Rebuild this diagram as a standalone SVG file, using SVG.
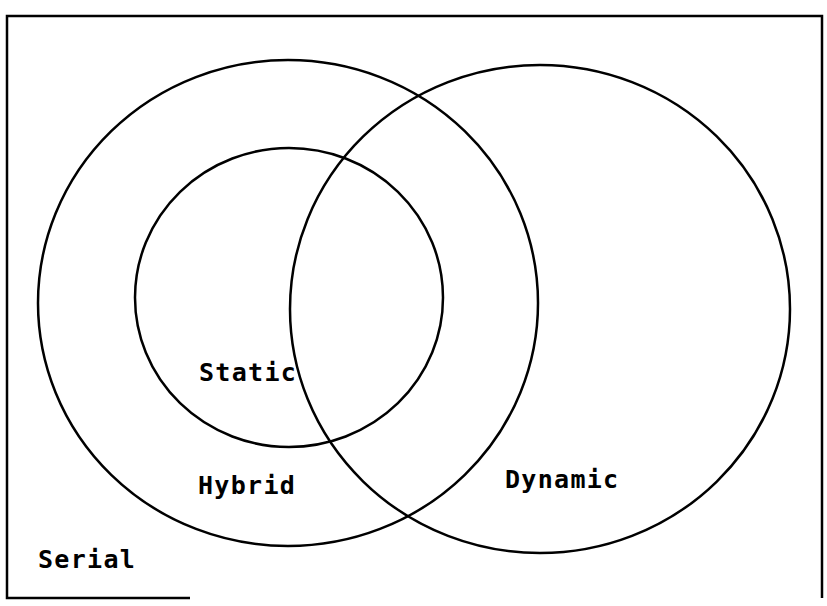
<svg xmlns="http://www.w3.org/2000/svg" width="827" height="606" viewBox="0 0 827 606">
<style>
.c{fill:none;stroke:#000;stroke-width:2.5}
.b{fill:none;stroke:#000;stroke-width:2.5}
.t{font-family:"DejaVu Sans Mono","Liberation Mono",monospace;font-weight:bold;font-size:25px;letter-spacing:1.3px;fill:#000}
</style>
<rect width="827" height="606" fill="#fff"/>
<g id="frame">
<path class="b" d="M190,598 L7,598 L7,16 L822,16 L822,598"/>
</g>
<g id="hybrid">
<ellipse class="c" cx="288" cy="303" rx="250" ry="243"/>
<text class="t" x="198" y="494">Hybrid</text>
</g>
<g id="static">
<ellipse class="c" cx="289" cy="297.5" rx="154" ry="149.5"/>
<text class="t" x="199" y="381">Static</text>
</g>
<g id="dynamic">
<ellipse class="c" cx="540" cy="309" rx="250" ry="244"/>
<text class="t" x="505" y="488">Dynamic</text>
</g>
<g id="serial">
<text class="t" x="38" y="568">Serial</text>
</g>
<g id="connectors"></g>
</svg>
